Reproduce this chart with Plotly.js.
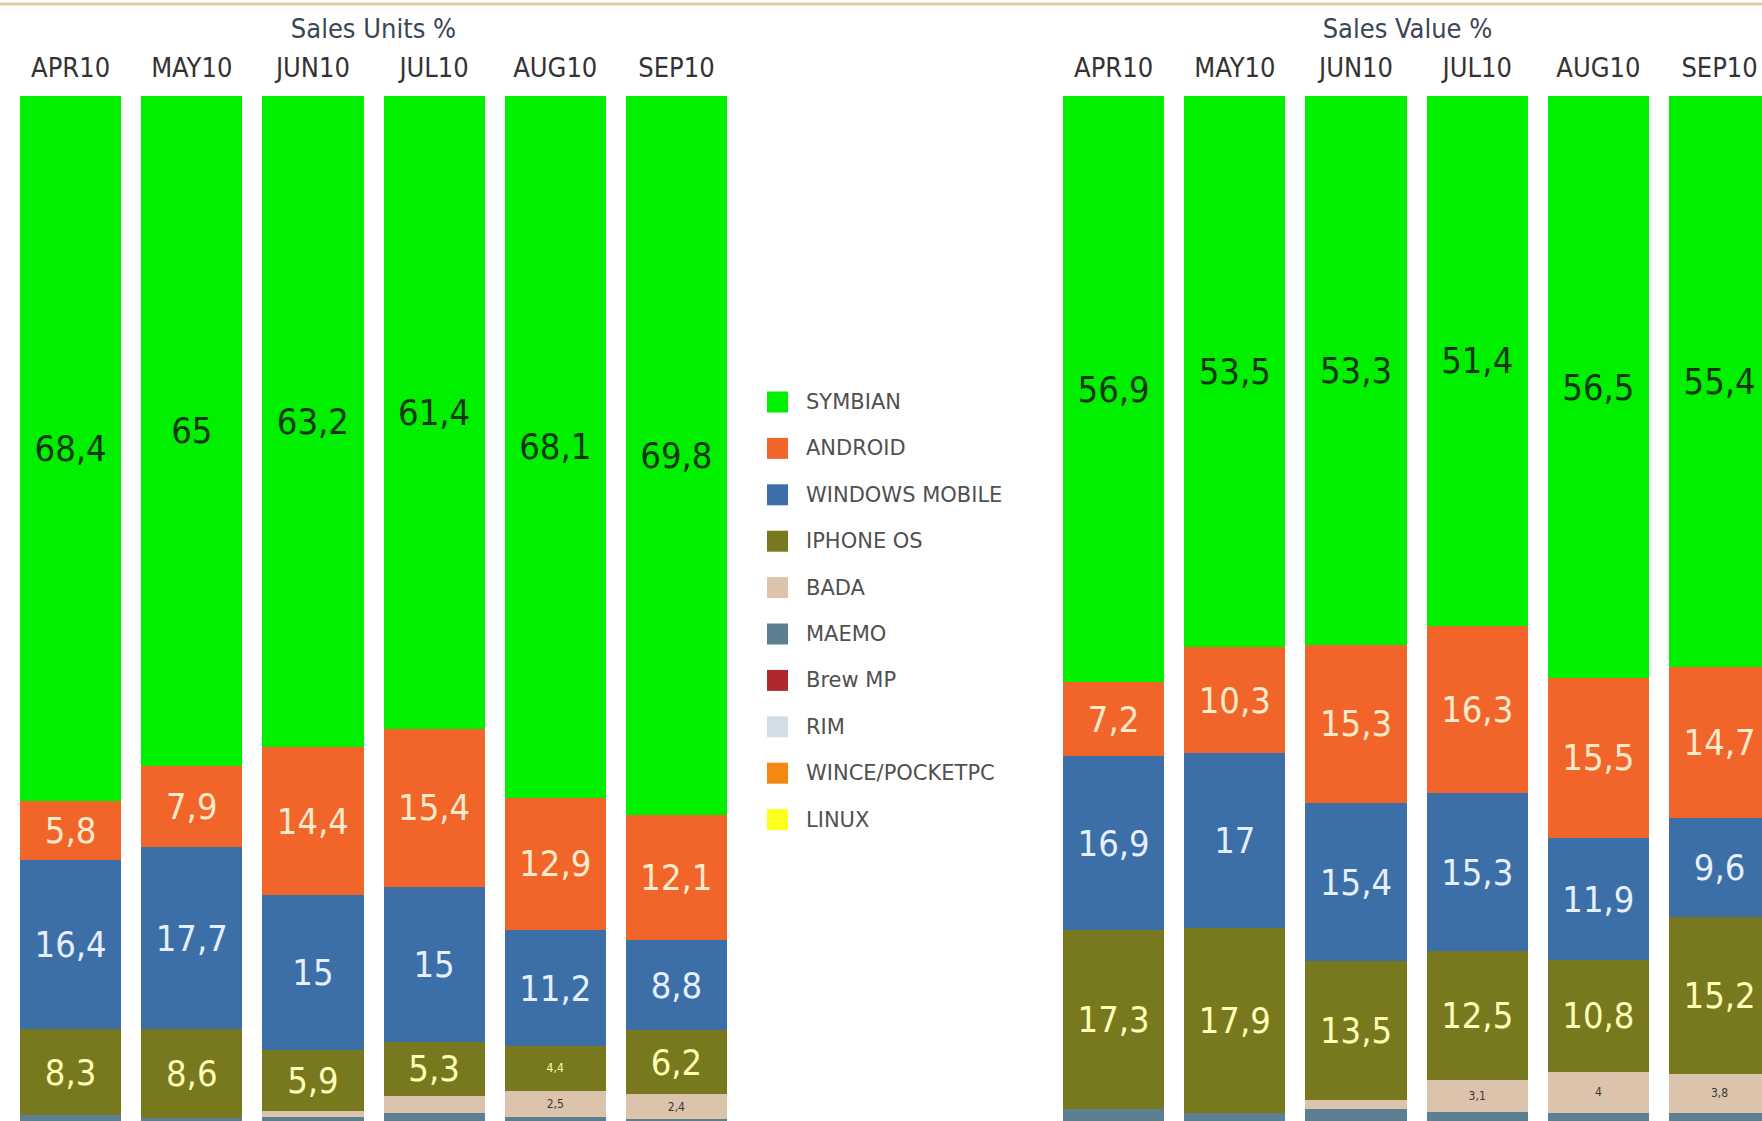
<!DOCTYPE html>
<html>
<head>
<meta charset="utf-8">
<script src="https://cdn.plot.ly/plotly-3.0.1.min.js"></script>
<style>
html,body{margin:0;padding:0;background:#fff;overflow:hidden;}
#chart{width:1762px;height:1121px;}
</style>
</head>
<body>
<div id="chart"></div>
<script>
// ---- data ----
var months = ['APR10','MAY10','JUN10','JUL10','AUG10','SEP10'];
var seriesNames = ['SYMBIAN','ANDROID','WINDOWS MOBILE','IPHONE OS','BADA','MAEMO','Brew MP','RIM','WINCE/POCKETPC','LINUX'];

var unitsSymbian    = [68.4, 65, 63.2, 61.4, 68.1, 69.8];
var unitsAndroid    = [5.8, 7.9, 14.4, 15.4, 12.9, 12.1];
var unitsWinMobile  = [16.4, 17.7, 15, 15, 11.2, 8.8];
var unitsIphone     = [8.3, 8.6, 5.9, 5.3, 4.4, 6.2];
var unitsBada       = [0, 0, 0.6, 1.6, 2.5, 2.4];
var unitsMaemo      = [1.1, 0.8, 0.9, 1.3, 0.9, 0.7];
var unitsBrew       = [0, 0, 0, 0, 0, 0];
var unitsRim        = [0, 0, 0, 0, 0, 0];
var unitsWince      = [0, 0, 0, 0, 0, 0];
var unitsLinux      = [0, 0, 0, 0, 0, 0];

var valueSymbian    = [56.9, 53.5, 53.3, 51.4, 56.5, 55.4];
var valueAndroid    = [7.2, 10.3, 15.3, 16.3, 15.5, 14.7];
var valueWinMobile  = [16.9, 17, 15.4, 15.3, 11.9, 9.6];
var valueIphone     = [17.3, 17.9, 13.5, 12.5, 10.8, 15.2];
var valueBada       = [0, 0, 0.8, 3.1, 4, 3.8];
var valueMaemo      = [1.7, 1.3, 1.7, 1.4, 1.3, 1.3];
var valueBrew       = [0, 0, 0, 0, 0, 0];
var valueRim        = [0, 0, 0, 0, 0, 0];
var valueWince      = [0, 0, 0, 0, 0, 0];
var valueLinux      = [0, 0, 0, 0, 0, 0];

// ---- styles ----
var colors = ['#00f000','#f2652a','#3c6fa8','#78781e','#dcc3ab','#5d7f92','#b0282c','#d3dde5','#f28a12','#ffff1e'];
var textColors = ['#0f360f','#ffeacc','#e6efff','#ffffb8','#3a3a3a','#ffffff','#ffffff','#333','#333','#333'];
var FONT = '"DejaVu Sans Condensed", "DejaVu Sans", Verdana, sans-serif';

var W = 1762, H = 1121, TOP = 96;
function fmt(v){ return String(v).replace('.', ','); }

var units = [unitsSymbian, unitsAndroid, unitsWinMobile, unitsIphone, unitsBada, unitsMaemo, unitsBrew, unitsRim, unitsWince, unitsLinux];
var value = [valueSymbian, valueAndroid, valueWinMobile, valueIphone, valueBada, valueMaemo, valueBrew, valueRim, valueWince, valueLinux];

function labelSizes(vals, idx){
  return vals.map(function(v){
    if (idx <= 3) return v < 5 ? 12 : 36;
    return 12;
  });
}
function labels(vals, idx){
  return vals.map(function(v){
    if (idx <= 3) return fmt(v);
    if (idx === 4 && v >= 2) return fmt(v);
    return '';
  });
}

var traces = [];
// bottom of stack first: reverse series order
for (var i = seriesNames.length - 1; i >= 0; i--) {
  [[units, 'x'], [value, 'x2']].forEach(function(pair){
    var vals = pair[0][i];
    traces.push({
      type: 'bar',
      name: seriesNames[i],
      x: months,
      y: vals,
      xaxis: pair[1],
      yaxis: 'y',
      marker: {color: colors[i], line: {width: 0}},
      text: labels(vals, i),
      textposition: 'inside',
      insidetextanchor: 'middle',
      textangle: 0,
      textfont: {family: FONT, size: labelSizes(vals, i), color: textColors[i]},
      hoverinfo: 'name+y',
      showlegend: false,
      cliponaxis: true
    });
  });
}

// manual legend (squares + names)
function px2x(px){ return px / W; }
function py2y(py){ return (H - py) / (H - TOP); }
var shapes = [
  {type:'line', xref:'paper', yref:'paper', x0:0, x1:1, y0:py2y(4), y1:py2y(4),
   line:{color:'#e6c9a2', width:3}}
];
var annotations = [];
var legTop = 402, legStep = 46.4;
seriesNames.forEach(function(n, k){
  var cy = legTop + k * legStep;
  shapes.push({type:'rect', xref:'paper', yref:'paper',
    x0:px2x(767), x1:px2x(788), y0:py2y(cy-10.5), y1:py2y(cy+10.5),
    fillcolor: colors[k], line:{width:0}});
  annotations.push({xref:'paper', yref:'paper', x:px2x(804), y:py2y(cy),
    xanchor:'left', yanchor:'middle', showarrow:false, text:n,
    font:{family:'"DejaVu Sans", Verdana, sans-serif', size:21, color:'#505050'}});
});

var axisCommon = {
  type:'category', side:'top', showgrid:false, zeroline:false, showline:false,
  ticks:'', ticklabelstandoff: 13,
  tickfont:{family:FONT, size:27, color:'#333333'},
  fixedrange:true
};

var layout = {
  width: W, height: H,
  margin: {l:0, r:0, t:TOP, b:0, pad:0},
  paper_bgcolor:'#ffffff', plot_bgcolor:'rgba(0,0,0,0)',
  barmode:'stack', bargap: 0.165,
  showlegend:false,
  xaxis: Object.assign({}, axisCommon, {
    domain:[10/W, 737/W], anchor:'y', range:[-0.5, 5.5],
    title:{text:'Sales Units %', font:{family:FONT, size:27, color:'#3a4656'}, standoff:5}
  }),
  xaxis2: Object.assign({}, axisCommon, {
    domain:[1053/W, 1], anchor:'y', range:[-0.5, 5.35],
    title:{text:'Sales Value %', font:{family:FONT, size:27, color:'#3a4656'}, standoff:5}
  }),
  yaxis: {range:[0.5, 100], visible:false, showgrid:false, zeroline:false, fixedrange:true},
  shapes: shapes,
  annotations: annotations
};

Plotly.newPlot('chart', traces, layout, {displayModeBar:false, staticPlot:true});
</script>
</body>
</html>
